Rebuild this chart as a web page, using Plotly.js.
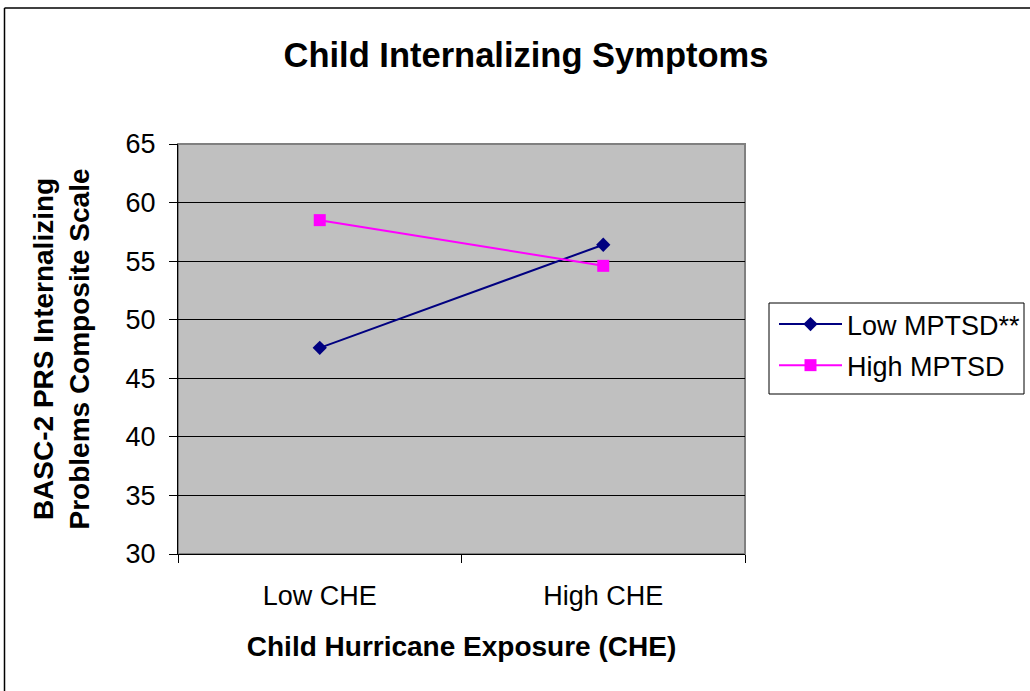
<!DOCTYPE html>
<html>
<head>
<meta charset="utf-8">
<script src="https://cdn.plot.ly/plotly-3.0.1.min.js"></script>
<style>
  html, body { margin: 0; padding: 0; background: #fff; }
  #chart { width: 1030px; height: 691px; }
</style>
</head>
<body>
<div id="chart"></div>
<script>
// ---- data ----
var categories = ["Low CHE", "High CHE"];
var seriesNames = ["Low MPTSD**", "High MPTSD"];
var lowMPTSD = [47.6, 56.4];
var highMPTSD = [58.5, 54.6];
var yTickVals = [30, 35, 40, 45, 50, 55, 60, 65];

var FONT = "Liberation Sans, Arial, Helvetica, sans-serif";

// plot area geometry (pixels)
var W = 1030, H = 691;
var L = 178, R = 745, T = 144, B = 554;
var pw = R - L, ph = B - T;
function px(x) { return (x - L) / pw; }
function py(y) { return (B - y) / ph; }

var traces = [
  {
    x: categories, y: lowMPTSD, name: seriesNames[0], type: "scatter",
    mode: "lines+markers", legendgroup: "a",
    line: { color: "#000080", width: 2 },
    marker: { symbol: "diamond", size: 11, color: "#000080" }
  },
  {
    x: categories, y: highMPTSD, name: seriesNames[1], type: "scatter",
    mode: "lines+markers", legendgroup: "b",
    line: { color: "#FF00FF", width: 2 },
    marker: { symbol: "square", size: 12, color: "#FF00FF" }
  }
];

var layout = {
  width: W, height: H,
  margin: { l: L, r: W - R, t: T, b: H - B, pad: 0, autoexpand: false },
  paper_bgcolor: "#ffffff",
  plot_bgcolor: "#C0C0C0",
  font: { family: FONT, color: "#000000", size: 26 },
  title: {
    text: "<b>Child Internalizing Symptoms</b>",
    font: { family: FONT, size: 34.5, color: "#000" },
    x: 526 / W, xanchor: "center", xref: "container",
    y: 1 - 55 / H, yanchor: "middle", yref: "container",
    automargin: false
  },
  xaxis: {
    type: "category",
    range: [-0.5, 1.5],
    tickson: "boundaries",
    ticks: "outside", ticklen: 8, tickcolor: "#000", tickwidth: 1,
    showline: true, linecolor: "#000", linewidth: 1,
    showgrid: false, zeroline: false,
    tickfont: { family: FONT, size: 27, color: "#000" },
    ticklabelstandoff: 18,
    automargin: false,
    title: {
      text: "<b>Child Hurricane Exposure (CHE)</b>",
      font: { family: FONT, size: 28, color: "#000" },
      standoff: 25
    },
    fixedrange: true
  },
  yaxis: {
    range: [30, 65],
    tickvals: yTickVals,
    ticks: "outside", ticklen: 8, tickcolor: "#000", tickwidth: 1,
    showline: true, linecolor: "#000", linewidth: 1,
    showgrid: true, gridcolor: "#000", gridwidth: 1,
    zeroline: false,
    tickfont: { family: FONT, size: 27, color: "#000" },
    ticklabelstandoff: 8,
    automargin: false,
    title: {
      text: "<b>BASC-2 PRS Internalizing<br>Problems Composite Scale</b>",
      font: { family: FONT, size: 28, color: "#000" },
      standoff: 27
    },
    fixedrange: true
  },
  showlegend: true,
  legend: {
    xref: "paper", yref: "paper",
    x: px(774), xanchor: "left",
    y: py(300), yanchor: "top",
    bgcolor: "rgba(0,0,0,0)", borderwidth: 0,
    font: { family: FONT, size: 27, color: "#000" },
    itemwidth: 63,
    traceorder: "grouped",
    tracegroupgap: 3
  },
  shapes: [
    // plot area border (gray, top & right)
    { type: "rect", xref: "paper", yref: "paper", x0: 0, x1: 1, y0: 0, y1: 1,
      line: { color: "#808080", width: 2 }, fillcolor: "rgba(0,0,0,0)", layer: "below" },
    // legend box
    { type: "rect", xref: "paper", yref: "paper",
      x0: px(769), x1: px(1024), y0: py(394), y1: py(303),
      line: { color: "#000", width: 1 }, fillcolor: "rgba(0,0,0,0)" },
    // outer chart frame (left and top edges visible)
    { type: "line", xref: "paper", yref: "paper",
      x0: px(4.5), x1: px(4.5), y0: py(8), y1: py(720),
      line: { color: "#000", width: 1.5 } },
    { type: "line", xref: "paper", yref: "paper",
      x0: px(4.5), x1: px(1060), y0: py(8), y1: py(8),
      line: { color: "#000", width: 1.5 } }
  ]
};

Plotly.newPlot("chart", traces, layout, { displayModeBar: false, staticPlot: true });
</script>
</body>
</html>
